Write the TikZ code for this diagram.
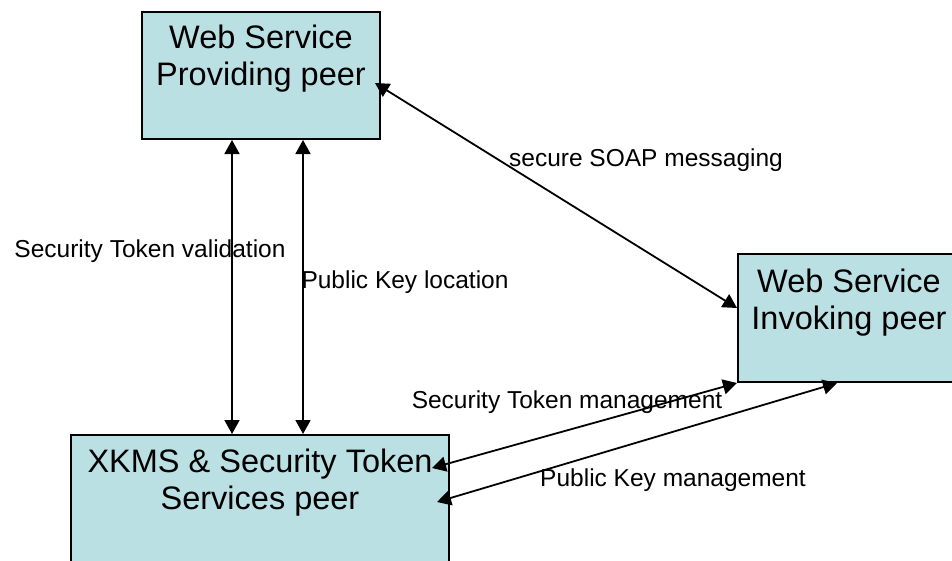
\documentclass[tikz,border=0pt]{standalone}
\usepackage{fontspec}
\setmainfont{Liberation Sans}
\usetikzlibrary{arrows.meta,calc}
\definecolor{peerfill}{HTML}{BBE0E3}
\begin{document}
\begin{tikzpicture}[x=1pt,y=-1pt,
  peerbox/.style={draw=black, line width=2pt, fill=peerfill, rectangle,
                  anchor=north west, inner sep=0pt},
  peertext/.style={font=\fontsize{32.5}{37}\selectfont, align=center,
                   inner sep=0pt, anchor=north},
  flowlabel/.style={font=\fontsize{24.5}{28}\selectfont, inner sep=0pt},
  link/.style={line width=1.8pt,
               {Triangle[length=14pt,width=15pt]}-{Triangle[length=14pt,width=15pt]}}]

\useasboundingbox (0,0) rectangle (952,560);
\clip (0,0) rectangle (952,560);

% peers
\node[peerbox, minimum width=238pt, minimum height=127pt] (prov) at (141,11) {};
\node[peerbox, minimum width=222pt, minimum height=128pt] (inv)  at (737,253) {};
\node[peerbox, minimum width=378pt, minimum height=160pt] (xkms) at (70,434) {};

\node[peertext] (provtext) at ($(prov.north)+(0,14)$) {Web Service\\Providing peer};
\node[peertext] (invtext)  at ($(inv.north)+(0,16)$)  {Web Service\\Invoking peer};
\node[peertext] (xkmstext) at ($(xkms.north)+(0,15)$) {XKMS \& Security Token\\Services peer};

% connector end points on the peers
\coordinate (tokA) at ($(prov.south west)+(91,0)$);
\coordinate (tokB) at ($(xkms.north west)+(162,0)$);
\coordinate (keyA) at ($(prov.south west)+(162,0)$);
\coordinate (keyB) at ($(xkms.north west)+(233,0)$);
\coordinate (soapA) at ($(prov.north east)+(-6,72)$);
\coordinate (soapB) at ($(inv.north west)+(0,55)$);
\coordinate (stmA) at ($(xkms.north east)+(-18,34)$);
\coordinate (stmB) at (inv.south west);
\coordinate (pkmA) at ($(xkms.north east)+(-13,68)$);
\coordinate (pkmB) at ($(inv.south west)+(100,0)$);

% message flows
\draw[link] (tokA) -- (tokB);
\draw[link] (keyA) -- (keyB);
\draw[link] (soapA) -- (soapB);
\draw[link] (stmA) -- (stmB);
\draw[link] (pkmA) -- (pkmB);

% flow labels
\node[flowlabel] (lblval)  at (150,251) {Security Token validation};
\node[flowlabel] (lblloc)  at (405,282) {Public Key location};
\node[flowlabel] (lblsoap) at (646,160) {secure SOAP messaging};
\node[flowlabel] (lblstm)  at (567,402) {Security Token management};
\node[flowlabel] (lblpkm)  at (673,480) {Public Key management};
\end{tikzpicture}
\end{document}
